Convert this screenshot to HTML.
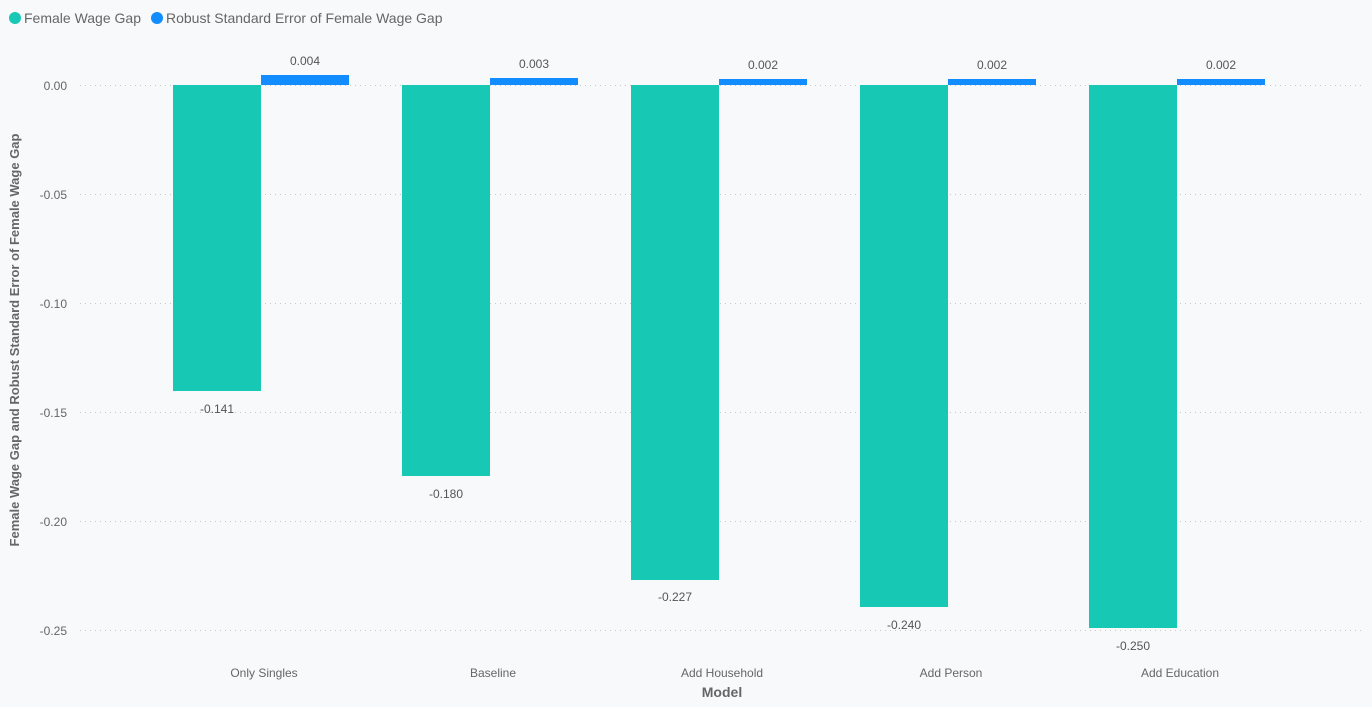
<!DOCTYPE html>
<html><head><meta charset="utf-8"><style>
body{margin:0;background:#F8F9FB;}
svg{display:block;font-family:"Liberation Sans",sans-serif;}
</style></head><body>
<svg width="1372" height="707" xmlns="http://www.w3.org/2000/svg">
<rect width="1372" height="707" fill="#F8F9FB"/>
<circle cx="15" cy="18" r="6" fill="#17C9B5"/>
<text x="24" y="23" font-size="14" fill="#666">Female Wage Gap</text>
<circle cx="157" cy="18" r="6" fill="#118DFF"/>
<text x="166" y="23" font-size="14" fill="#666">Robust Standard Error of Female Wage Gap</text>
<g stroke="#C8C8C8" stroke-dasharray="1,4" stroke-width="1">
<line x1="80" x2="1362" y1="85.5" y2="85.5"/>
<line x1="80" x2="1362" y1="194.5" y2="194.5"/>
<line x1="80" x2="1362" y1="303.5" y2="303.5"/>
<line x1="80" x2="1362" y1="412.5" y2="412.5"/>
<line x1="80" x2="1362" y1="521.5" y2="521.5"/>
<line x1="80" x2="1362" y1="630.5" y2="630.5"/>
</g>
<g font-size="12" fill="#666" text-anchor="end">
<text x="67" y="90">0.00</text>
<text x="67" y="199">-0.05</text>
<text x="67" y="308">-0.10</text>
<text x="67" y="417">-0.15</text>
<text x="67" y="526">-0.20</text>
<text x="67" y="635">-0.25</text>
</g>
<text transform="translate(19,340) rotate(-90)" font-size="13" font-weight="bold" fill="#666" text-anchor="middle">Female Wage Gap and Robust Standard Error of Female Wage Gap</text>
<g fill="#17C9B5">
<rect x="173" y="85" width="88" height="306"/>
<rect x="402" y="85" width="88" height="391"/>
<rect x="631" y="85" width="88" height="495"/>
<rect x="860" y="85" width="88" height="522"/>
<rect x="1089" y="85" width="88" height="543"/>
</g>
<g fill="#118DFF">
<rect x="261" y="75" width="88" height="10"/>
<rect x="490" y="78" width="88" height="7"/>
<rect x="719" y="79" width="88" height="6"/>
<rect x="948" y="79" width="88" height="6"/>
<rect x="1177" y="79" width="88" height="6"/>
</g>
<g font-size="12" fill="#555" text-anchor="middle">
<text x="305" y="65">0.004</text>
<text x="534" y="68">0.003</text>
<text x="763" y="69">0.002</text>
<text x="992" y="69">0.002</text>
<text x="1221" y="69">0.002</text>
<text x="217" y="413">-0.141</text>
<text x="446" y="498">-0.180</text>
<text x="675" y="601">-0.227</text>
<text x="904" y="629">-0.240</text>
<text x="1133" y="650">-0.250</text>
</g>
<g font-size="12" fill="#666" text-anchor="middle">
<text x="264" y="677">Only Singles</text>
<text x="493" y="677">Baseline</text>
<text x="722" y="677">Add Household</text>
<text x="951" y="677">Add Person</text>
<text x="1180" y="677">Add Education</text>
</g>
<text x="722" y="697" font-size="14" font-weight="bold" fill="#666" text-anchor="middle">Model</text>
</svg>
</body></html>
